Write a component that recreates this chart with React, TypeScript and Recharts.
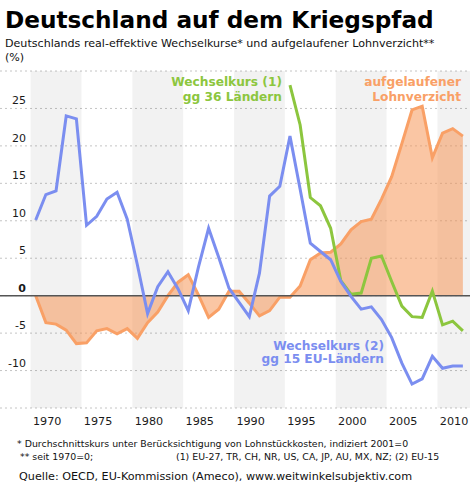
import React from 'react';
import { ComposedChart, Area, Line, XAxis, YAxis, CartesianGrid, ReferenceArea, ReferenceLine } from 'recharts';

const years = [
  1970, 1971, 1972, 1973, 1974, 1975, 1976, 1977, 1978, 1979,
  1980, 1981, 1982, 1983, 1984, 1985, 1986, 1987, 1988, 1989,
  1990, 1991, 1992, 1993, 1994, 1995, 1996, 1997, 1998, 1999,
  2000, 2001, 2002, 2003, 2004, 2005, 2006, 2007, 2008, 2009,
  2010, 2011, 2012,
];

// aufgelaufener Lohnverzicht (seit 1970 = 0)
const lohnverzicht = [
  0, -3.6, -3.8, -4.6, -6.4, -6.3, -4.7, -4.4, -5.1, -4.4,
  -5.7, -3.6, -2.2, 0.0, 1.8, 2.8, 0.1, -2.9, -1.8, 0.6,
  0.6, -1.0, -2.7, -2.0, -0.2, -0.2, 1.3, 4.8, 5.7, 5.8,
  6.9, 8.8, 9.9, 10.2, 12.9, 15.9, 20.3, 24.8, 25.3, 18.4,
  21.7, 22.3, 21.3,
];

// Wechselkurs (1) gg 36 Ländern
const wechselkurs36 = [
  null, null, null, null, null, null, null, null, null, null,
  null, null, null, null, null, null, null, null, null, null,
  null, null, null, null, null, 28.1, 22.8, 13.1, 12.0, 9.0,
  2.0, 0.2, 0.35, 5.0, 5.3, 1.9, -1.4, -2.8, -2.9, 0.6,
  -3.9, -3.4, -4.7,
];

// Wechselkurs (2) gg 15 EU-Ländern
const wechselkurs15 = [
  10.1, 13.5, 14.0, 24.0, 23.6, 9.4, 10.6, 12.9, 13.8, 10.2,
  4.1, -2.4, 1.2, 3.2, 0.9, -2.0, 3.8, 9.0, 5.1, 1.0,
  -0.9, -2.8, 3.0, 13.3, 14.6, 21.3, 14.2, 7.0, 5.9, 4.8,
  1.9, -0.1, -1.8, -1.5, -3.2, -5.6, -9.0, -11.8, -11.1, -8.1,
  -9.7, -9.4, -9.4,
];

const xTicks = [1970, 1975, 1980, 1985, 1990, 1995, 2000, 2005, 2010];
const yTicks = [-10, -5, 0, 5, 10, 15, 20, 25];
const bandStarts = [1970, 1980, 1990, 2000, 2010];
const bandEnds = [1974, 1984, 1994, 2004, 2013];

const data = years.map((year, i) => ({
  year,
  lohn: lohnverzicht[i],
  w36: wechselkurs36[i],
  w15: wechselkurs15[i],
}));

const FONT = '"DejaVu Sans", Verdana, sans-serif';
const X_MIN = 1966.49;
const X_MAX = 2012.7;
const BLUE = '#7b8ef0';
const GREEN = '#8cc63e';
const ORANGE = '#f9a066';

const XTick = (props: any) => {
  const { x, payload } = props;
  return (
    <text x={x + 11.5} y={425} textAnchor="middle" fontSize={11.2} fontFamily={FONT} fill="#1a1a1a">
      {payload.value}
    </text>
  );
};

const YTick = (props: any) => {
  const { y, payload } = props;
  return (
    <text
      x={26}
      y={y - 4}
      textAnchor="end"
      fontSize={11}
      fontWeight={payload.value === 0 ? 'bold' : 'normal'}
      fontFamily={FONT}
      fill="#1a1a1a"
    >
      {payload.value}
    </text>
  );
};

export default function App() {
  return (
    <div style={{ position: 'absolute', left: 0, top: 0, width: 470, height: 494, background: '#fff', overflow: 'hidden' }}>
      <ComposedChart
        width={470}
        height={494}
        data={data}
        margin={{ top: 71, right: 0, left: -30, bottom: 66 }}
      >
        {bandStarts.map((s, i) => (
          <ReferenceArea
            key={s}
            x1={s - 0.5}
            x2={Math.min(bandEnds[i] + 0.5, X_MAX)}
            y1={-15}
            y2={30}
            fill="#000"
            fillOpacity={0.052}
            stroke="none"
            ifOverflow="hidden"
          />
        ))}
        <CartesianGrid vertical={false} stroke="#c4c4c4" strokeDasharray="2 3" />
        <XAxis
          dataKey="year"
          type="number"
          domain={[X_MIN, X_MAX]}
          ticks={xTicks}
          interval={0}
          axisLine={false}
          tickLine={false}
          height={20}
          tick={<XTick />}
          allowDataOverflow
        />
        <YAxis
          type="number"
          domain={[-15, 30]}
          ticks={yTicks}
          interval={0}
          axisLine={false}
          tickLine={false}
          width={30}
          tick={<YTick />}
          allowDataOverflow
        />
        <Area
          dataKey="lohn"
          type="linear"
          baseValue={0}
          stroke={ORANGE}
          strokeWidth={3}
          fill="#f5975a"
          fillOpacity={0.55}
          isAnimationActive={false}
          dot={false}
          activeDot={false}
        />
        <ReferenceLine y={0} stroke="#555" strokeWidth={1.5} />
        <Line
          dataKey="w36"
          type="linear"
          stroke={GREEN}
          strokeWidth={3}
          dot={false}
          activeDot={false}
          connectNulls={false}
          isAnimationActive={false}
        />
        <Line
          dataKey="w15"
          type="linear"
          stroke={BLUE}
          strokeWidth={3}
          dot={false}
          activeDot={false}
          isAnimationActive={false}
        />
      </ComposedChart>
      <svg width={470} height={494} style={{ position: 'absolute', left: 0, top: 0, pointerEvents: 'none' }}>
        <text x={5} y={28} fontSize={23.2} fontWeight="bold" fontFamily={FONT} fill="#000">
          Deutschland auf dem Kriegspfad
        </text>
        <text x={5} y={47} fontSize={11.1} fontFamily={FONT} fill="#111">
          Deutschlands real-effektive Wechselkurse* und aufgelaufener Lohnverzicht**
        </text>
        <text x={5} y={61} fontSize={11.1} fontFamily={FONT} fill="#111">(%)</text>

        <text x={282} y={86} textAnchor="end" fontSize={12.2} fontWeight="bold" fontFamily={FONT} fill={GREEN}>Wechselkurs (1)</text>
        <text x={282} y={100.5} textAnchor="end" fontSize={12.2} fontWeight="bold" fontFamily={FONT} fill={GREEN}>gg 36 Ländern</text>

        <text x={461} y={86} textAnchor="end" fontSize={12.2} fontWeight="bold" fontFamily={FONT} fill={ORANGE}>aufgelaufener</text>
        <text x={461} y={100.5} textAnchor="end" fontSize={12.2} fontWeight="bold" fontFamily={FONT} fill={ORANGE}>Lohnverzicht</text>

        <text x={384} y={350} textAnchor="end" fontSize={12.2} fontWeight="bold" fontFamily={FONT} fill={BLUE}>Wechselkurs (2)</text>
        <text x={384} y={363} textAnchor="end" fontSize={12.2} fontWeight="bold" fontFamily={FONT} fill={BLUE}>gg 15 EU-Ländern</text>

        <text x={17} y={446.5} fontSize={9.4} fontFamily={FONT} fill="#111">
          * Durchschnittskurs unter Berücksichtigung von Lohnstückkosten, indiziert 2001=0
        </text>
        <text x={20} y={460} fontSize={9.4} fontFamily={FONT} fill="#111">** seit 1970=0;</text>
        <text x={176} y={460} fontSize={9.4} fontFamily={FONT} fill="#111">
          (1) EU-27, TR, CH, NR, US, CA, JP, AU, MX, NZ;  (2) EU-15
        </text>
        <text x={19} y={480} fontSize={11.2} fontFamily={FONT} fill="#111">
          Quelle: OECD, EU-Kommission (Ameco), www.weitwinkelsubjektiv.com
        </text>
      </svg>
    </div>
  );
}
